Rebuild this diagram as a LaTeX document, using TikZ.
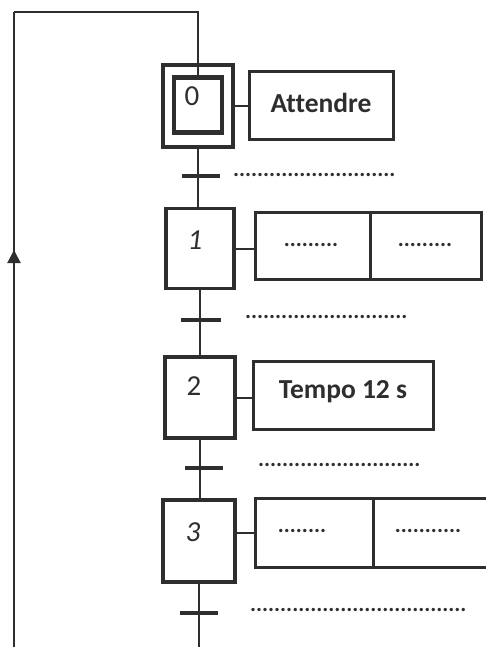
\documentclass[tikz,border=0pt]{standalone}
\usepackage{fontspec}
\setmainfont[Ligatures=NoCommon]{Carlito}
\usetikzlibrary{arrows.meta}
\definecolor{ink}{HTML}{2E2E2E}
\tikzset{
  x=1pt, y=-1pt,
  stepbox/.style={draw=ink, line width=3.2pt, minimum width=68pt, minimum height=80pt, inner sep=0pt},
  actbox/.style={draw=ink, line width=3pt, inner sep=0pt},
  flow/.style={draw=ink, line width=2pt},
  bar/.style={draw=ink, line width=3.6pt},
  num/.style={font=\fontsize{29}{29}\selectfont, text=ink},
  inum/.style={font=\fontsize{29}{29}\selectfont\itshape, text=ink},
  act/.style={font=\fontsize{27.5}{27.5}\selectfont\bfseries, text=ink},
  dotsl/.style={font=\fontsize{22.5}{22.5}\selectfont\bfseries, text=ink, inner sep=0pt},
}
\begin{document}
\begin{tikzpicture}
\useasboundingbox (0,0) rectangle (485,647);
% step 0
\node[stepbox, minimum width=70pt, minimum height=82pt] (s0) at (198,106) {};
\node[draw=ink, line width=4.5pt, minimum width=48pt, minimum height=55pt, inner sep=0pt] (s0i) at (198,105) {};
\node[num] (n0) at (192,96) {0};
\node[actbox, minimum width=144pt, minimum height=68pt] (a0) at (321,106) {};
\node[act] (t0) at (321,103) {Attendre};
% step 1
\node[stepbox] (s1) at (200,248.5) {};
\node[inum] (n1) at (195,240) {1};
\node[actbox, minimum width=115pt, minimum height=67pt] (a1l) at (312.5,245.5) {};
\node[actbox, minimum width=111pt, minimum height=67pt] (a1r) at (425.5,245.5) {};
\node[dotsl] (d1l) at (311,245) {.........};
\node[dotsl] (d1r) at (425,245) {.........};
% step 2
\node[stepbox, minimum width=70pt, minimum height=81pt] (s2) at (200,397.5) {};
\node[num] (n2) at (194,386) {2};
\node[actbox, minimum width=180pt, minimum height=68pt] (a2) at (343,395) {};
\node[act] (t2) at (343,392) {Tempo 12 s};
% step 3
\node[stepbox, minimum width=72pt, minimum height=82pt] (s3) at (199,541) {};
\node[inum] (n3) at (193,532) {3};
\node[actbox, minimum width=118pt, minimum height=69pt] (a3l) at (314,532.5) {};
\node[actbox, minimum width=130pt, minimum height=69pt] (a3r) at (438,532.5) {};
\node[dotsl] (d3l) at (302,531) {........};
\node[dotsl] (d3r) at (428,531) {...........};
% links step-action
\draw[flow] (s0.east) -- (a0.west |- s0.east);
\draw[flow] (s1.east) -- (a1l.west |- s1.east);
\draw[flow] (s2.east) -- (a2.west |- s2.east);
\draw[flow] (s3.east |- a3l.west) -- (a3l.west);
% transitions
\draw[bar] (182,176) -- (220,176);
\draw[bar] (181,320) -- (221,320);
\draw[bar] (185,468) -- (223,468);
\draw[bar] (180,613) -- (218,613);
\node[dotsl, anchor=west] (r1) at (233,175) {...........................};
\node[dotsl, anchor=west] (r2) at (245,317) {...........................};
\node[dotsl, anchor=west] (r3) at (258,465) {...........................};
\node[dotsl, anchor=west] (r4) at (250,610) {....................................};
% main flow
\coordinate (top) at (198,12);
\coordinate (topl) at (14,12);
\coordinate (bot) at (199,647);
\coordinate (botl) at (14,647);
\draw[flow] (topl) -- (top) -- (s0i.north);
\draw[flow] (s0.south) -- (s1.north -| s0.south);
\draw[flow] (s1.south) -- (s2.north);
\draw[flow] (s2.south) -- (s3.north -| s2.south);
\draw[flow] (s3.south) -- (bot);
\draw[flow] (botl) -- (topl);
\draw[flow, -{Triangle[length=13pt, width=13pt]}] (14,300) -- (14,250);
\end{tikzpicture}
\end{document}
